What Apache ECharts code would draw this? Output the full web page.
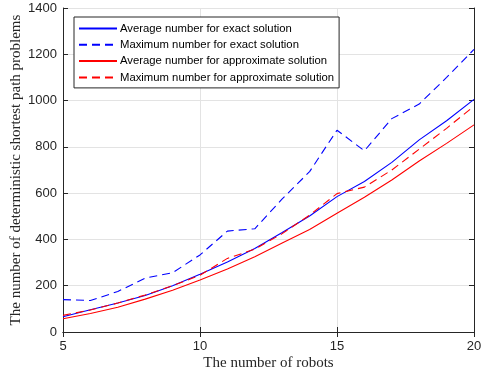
<!DOCTYPE html>
<html><head><meta charset="utf-8">
<script src="https://cdn.jsdelivr.net/npm/echarts@6/dist/echarts.min.js"></script>
<style>html,body{margin:0;padding:0;background:#fff}#c{width:482px;height:371px}</style>
</head><body><div id="c"></div>
<script>
const robots = [5,6,7,8,9,10,11,12,13,14,15,16,17,18,19,20];
const avgExact = [66,96,125,158,200,250,302,361,430,501,585,650,733,830,913,1005];
const maxExact = [140,136,175,233,256,333,436,446,575,693,872,783,922,985,1100,1221];
const avgApprox = [57,80,107,142,180,225,272,325,385,443,513,582,657,739,815,895];
const maxApprox = [72,95,125,160,200,245,318,358,425,505,598,626,700,790,880,976];
const seriesNames = ['Average number for exact solution','Maximum number for exact solution','Average number for approximate solution','Maximum number for approximate solution'];
const yTicks = [0,200,400,600,800,1000,1200,1400];

const axisCol = '#262626';
function mk(name, data, color, dashed){
  return {name, type:'line', data: robots.map((r,i)=>[r,data[i]]), symbol:'none', showSymbol:false,
    lineStyle:{color, width:1.1, type: dashed?[8,5]:'solid'}, itemStyle:{color}, animation:false, z:3};
}
const chart = echarts.init(document.getElementById('c'), null, {renderer:'canvas'});
chart.setOption({
  animation:false,
  backgroundColor:'#fff',
  grid:{left:63,right:8,top:8,bottom:39,containLabel:false,outerBoundsMode:'none'},
  legend:{orient:'vertical',left:74,top:17,itemWidth:38,itemHeight:10,itemGap:5.3,
    padding:[6,5,5,4],borderColor:axisCol,borderWidth:1,backgroundColor:'#fff',
    itemStyle:{color:'transparent',borderColor:'transparent',borderWidth:0,opacity:0},
    textStyle:{fontFamily:'Liberation Sans, Arial',fontSize:11.3,color:'#000',padding:[0,0,0,-2]},
    data:seriesNames},
  xAxis:[{type:'value',min:5,max:20,interval:5,position:'bottom',
    name:'The number of robots',nameLocation:'middle',nameGap:24,nameMoveOverlap:false,
    nameTextStyle:{fontFamily:'Liberation Serif, Times New Roman',fontSize:15,color:axisCol},
    axisLine:{lineStyle:{color:axisCol,width:1}},
    axisTick:{inside:true,length:5,lineStyle:{color:axisCol}},
    axisLabel:{fontFamily:'Liberation Sans, Arial',fontSize:13,color:axisCol,margin:8},
    splitLine:{show:true,lineStyle:{color:'#e3e3e3',width:1}}},
   {type:'value',min:5,max:20,interval:5,position:'top',
    axisLine:{show:true,lineStyle:{color:axisCol,width:1}},
    axisTick:{show:true,inside:true,length:5,lineStyle:{color:axisCol}},
    axisLabel:{show:false},splitLine:{show:false}}],
  yAxis:[{type:'value',min:0,max:1400,interval:200,position:'left',
    name:'The number of deterministic shortest path problems',nameLocation:'middle',nameGap:39,nameMoveOverlap:false,
    nameTextStyle:{fontFamily:'Liberation Serif, Times New Roman',fontSize:15,color:axisCol},
    axisLine:{show:true,lineStyle:{color:axisCol,width:1}},
    axisTick:{show:true,inside:true,length:5,lineStyle:{color:axisCol}},
    axisLabel:{fontFamily:'Liberation Sans, Arial',fontSize:13,color:axisCol,margin:6,
      formatter:v=>yTicks.includes(v)?String(v):''},
    splitLine:{show:true,lineStyle:{color:'#e3e3e3',width:1}}},
   {type:'value',min:0,max:1400,interval:200,position:'right',
    axisLine:{show:true,lineStyle:{color:axisCol,width:1}},
    axisTick:{show:true,inside:true,length:5,lineStyle:{color:axisCol}},
    axisLabel:{show:false},splitLine:{show:false}}],
  series:[
    mk(seriesNames[0],avgExact,'#0000ff',false),
    mk(seriesNames[1],maxExact,'#0000ff',true),
    mk(seriesNames[2],avgApprox,'#ff0000',false),
    mk(seriesNames[3],maxApprox,'#ff0000',true)
  ]
});
</script></body></html>
